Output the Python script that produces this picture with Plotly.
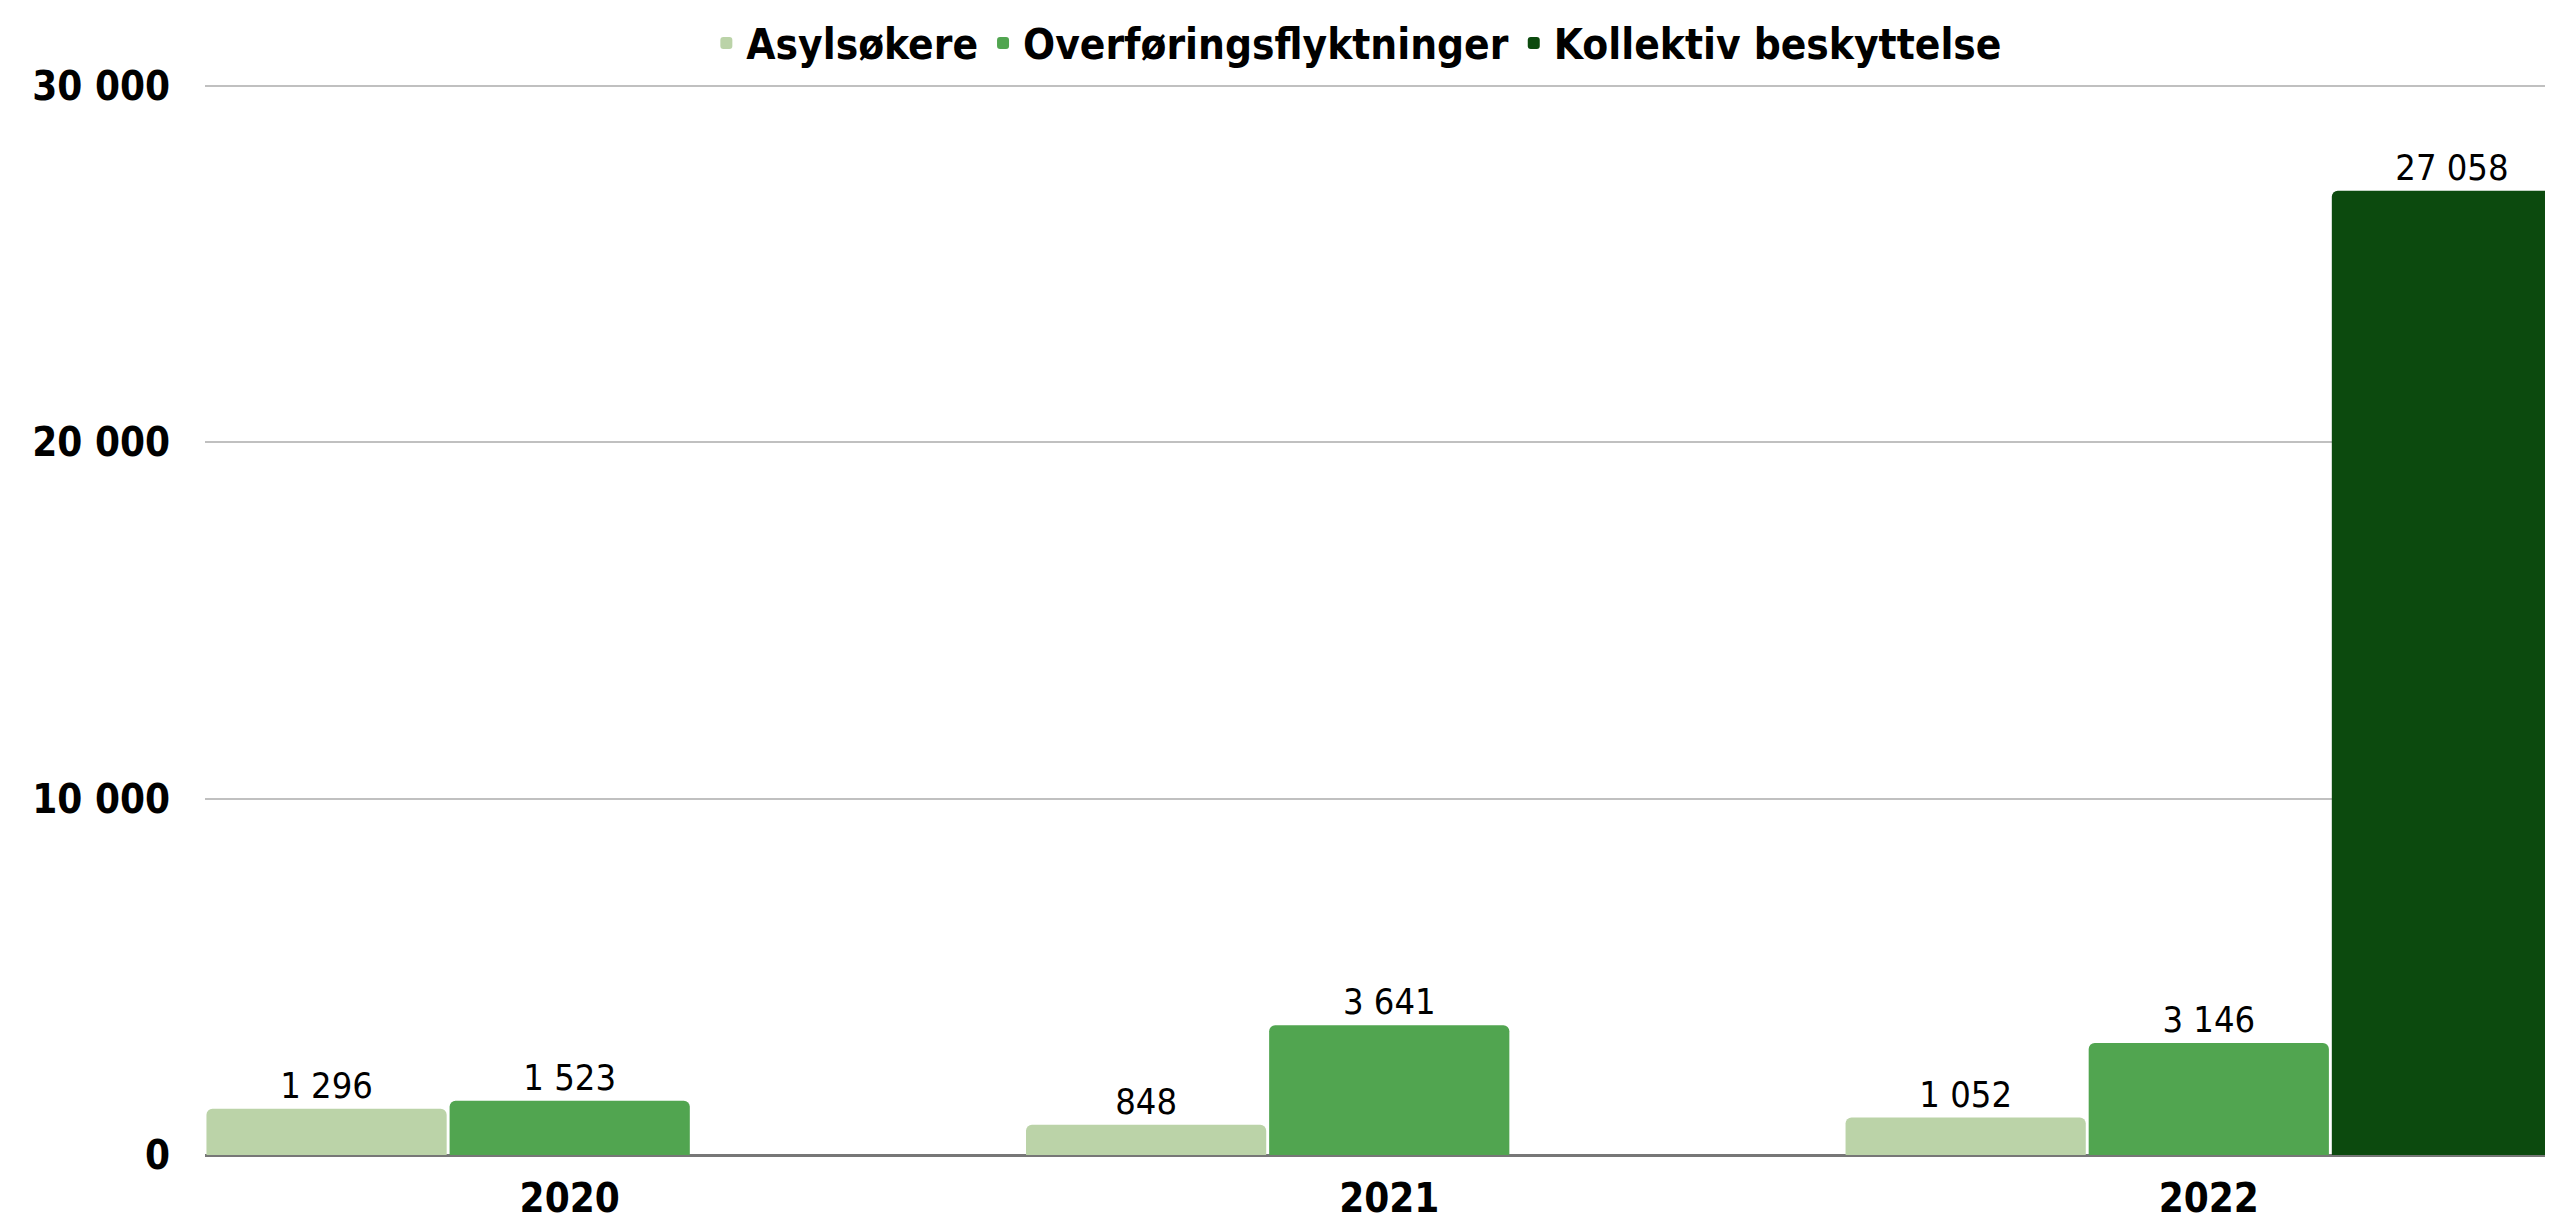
import plotly.graph_objects as go

years = ["2020", "2021", "2022"]
asyl = [1296, 848, 1052]
overforing = [1523, 3641, 3146]
kollektiv = [None, None, 27058]
series_names = ["Asylsøkere", "Overføringsflyktninger", "Kollektiv beskyttelse"]
colors = ["#bbd3a8", "#51a550", "#0c4a0e"]
y_ticks = [0, 10000, 20000, 30000]

FONT = "DejaVu Sans Condensed, DejaVu Sans, sans-serif"

fig = go.Figure()
for name, vals, col in zip(series_names, [asyl, overforing, kollektiv], colors):
    fig.add_trace(go.Bar(
        x=years, y=vals, name=name, marker_color=col, marker_line_width=0,
        texttemplate="%{y:,}", textposition="outside", cliponaxis=False,
        textfont=dict(family=FONT, size=36, color="#000000"),
    ))

fig.update_layout(
    width=2545, height=1214,
    paper_bgcolor="white", plot_bgcolor="white",
    margin=dict(l=197, r=0, t=76, b=67, autoexpand=False),
    barmode="group", bargap=0.11, bargroupgap=0.012,
    barcornerradius=6,
    separators=", ",
    font=dict(family=FONT, color="#000000"),
    showlegend=True,
    legend=dict(orientation="h", x=0.53, xanchor="center", xref="container",
                y=0.971, yanchor="middle", yref="container",
                font=dict(family=FONT, size=42, weight="bold"),
                itemwidth=30, traceorder="normal", bgcolor="rgba(0,0,0,0)"),
    xaxis=dict(type="category", range=[-0.445, 2.42], showgrid=False,
               tickfont=dict(family=FONT, size=40, weight="bold"),
               ticks="", showline=False, ticklabelstandoff=16, automargin=False),
    yaxis=dict(range=[0, 30056], tickvals=y_ticks, tickformat=",",
               showgrid=True, gridcolor="#c0c0c0", gridwidth=2,
               zeroline=True, zerolinecolor="#777777", zerolinewidth=3,
               tickfont=dict(family=FONT, size=40, weight="bold"),
               ticks="", ticklabelstandoff=34, showline=False, automargin=False),
)

fig.write_html("out.html")
